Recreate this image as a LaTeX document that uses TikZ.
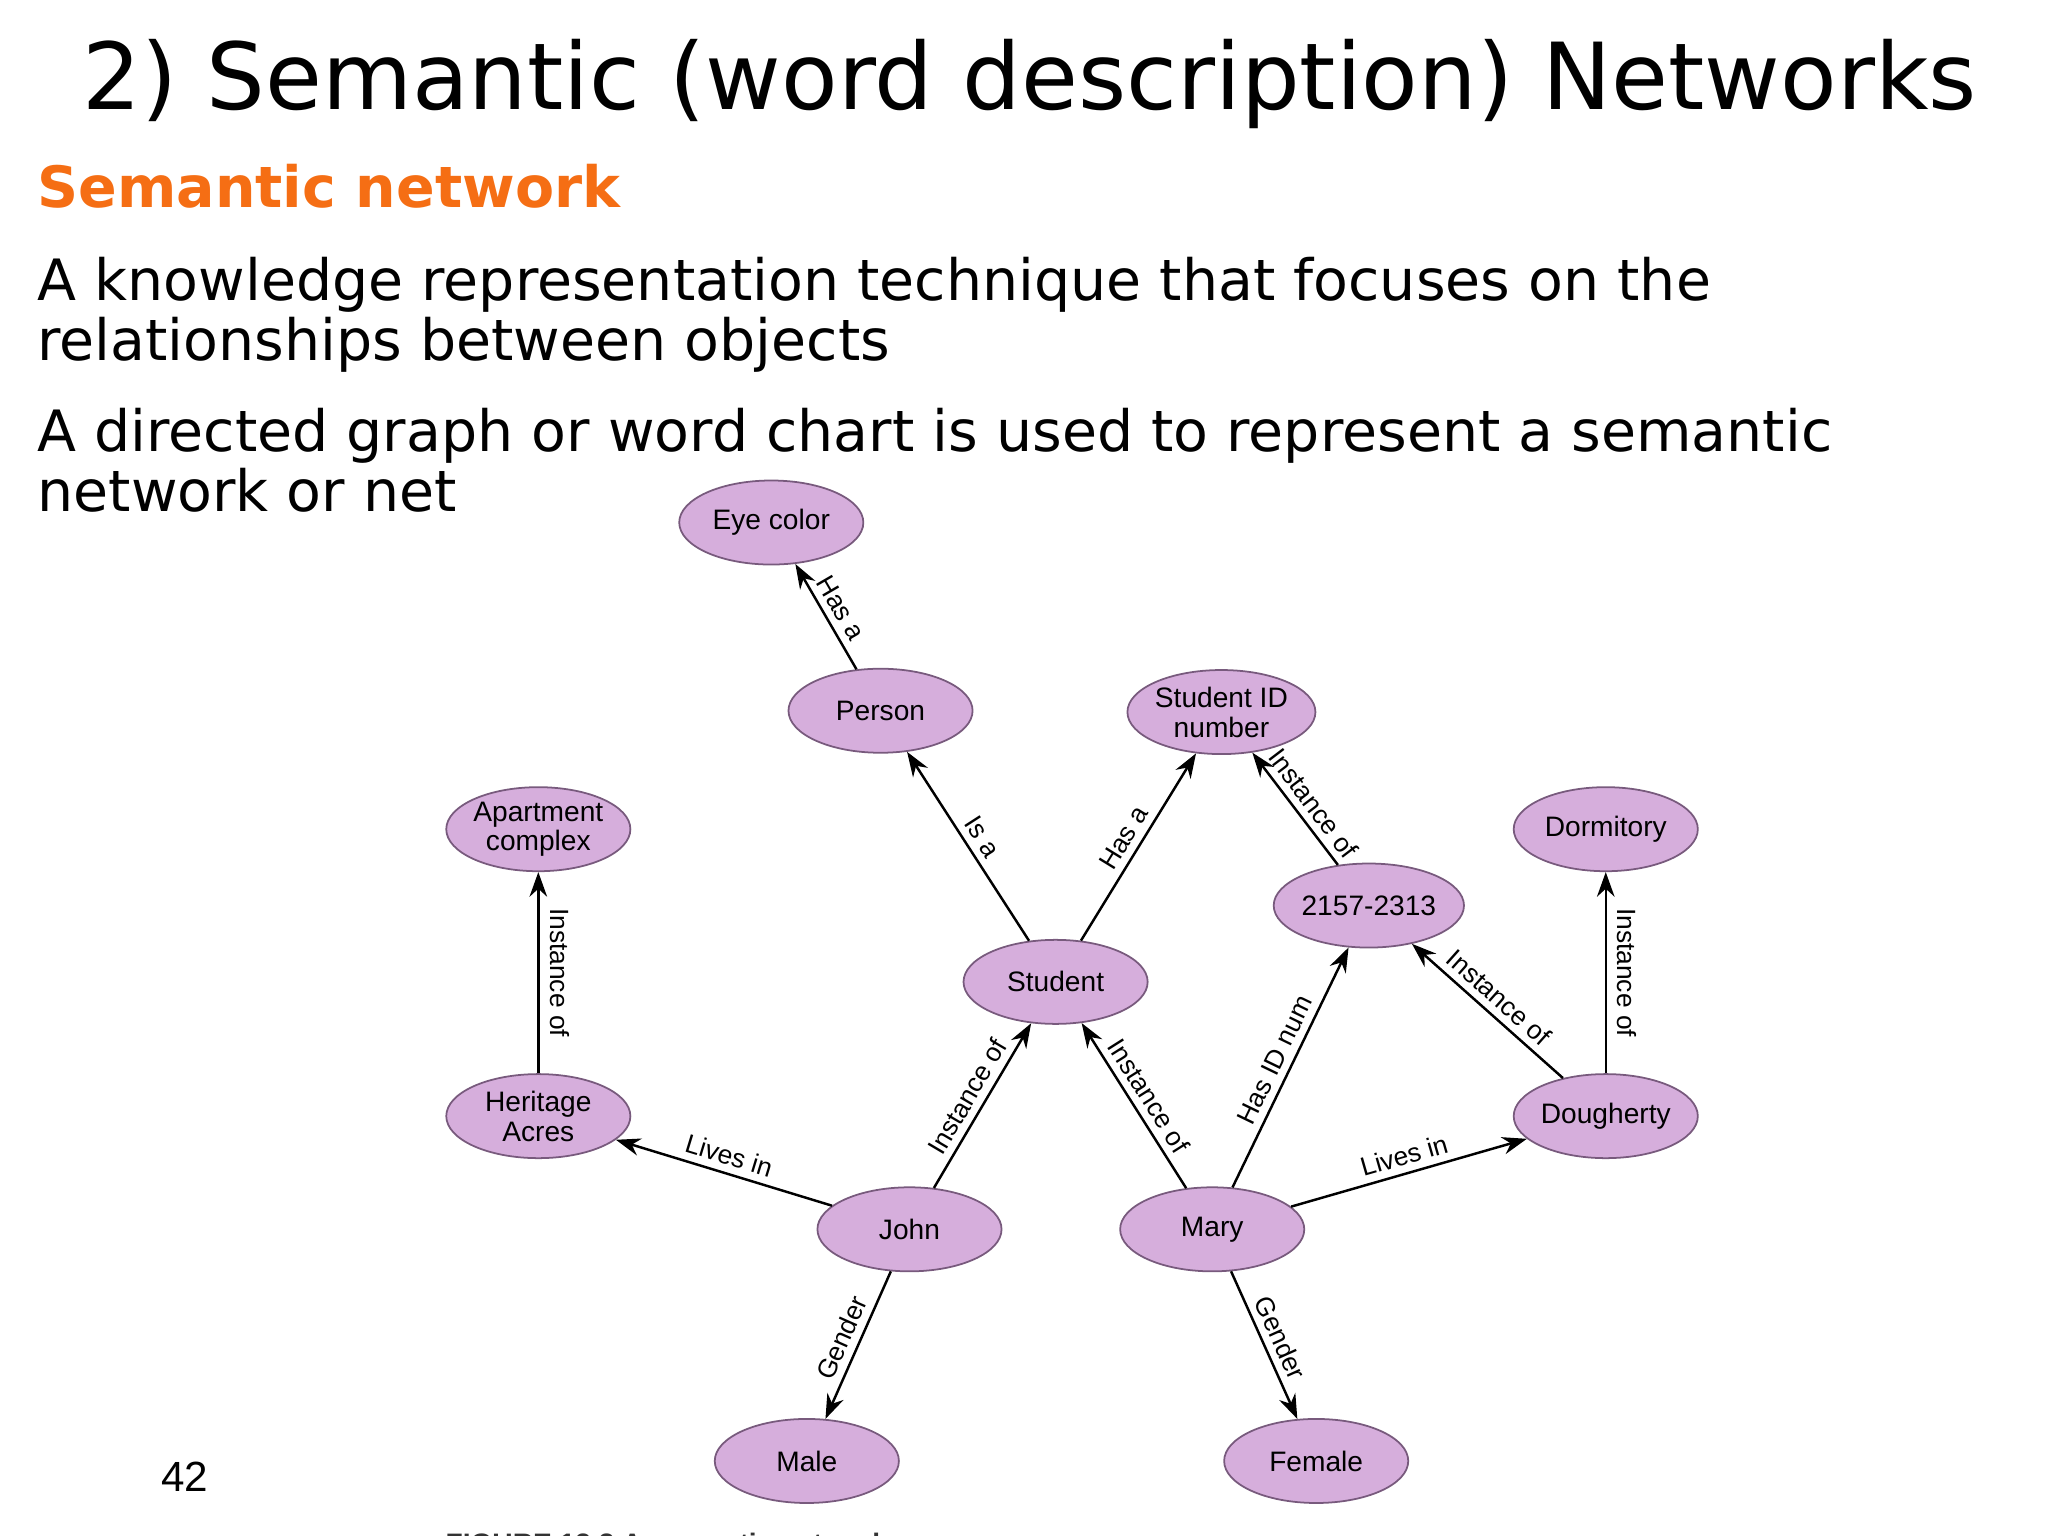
\documentclass[tikz,border=0pt]{standalone}
\usepackage{fontspec}
\setmainfont{DejaVu Sans}
\newfontfamily\nodefont{Liberation Sans}
\usetikzlibrary{shapes.geometric,arrows.meta}
\definecolor{nodefill}{RGB}{214,174,220}
\definecolor{nodeline}{RGB}{120,90,125}
\definecolor{orangeh}{RGB}{245,110,20}
\begin{document}
\begin{tikzpicture}[x=0.01316cm,y=-0.01316cm,
  nd/.style={ellipse,draw=nodeline,fill=nodefill,line width=0.5pt,minimum width=1.84cm,minimum height=0.84cm,inner sep=0pt,align=center,font=\nodefont\fontsize{8}{8.5}\selectfont},
  ed/.style={-{Stealth[length=7pt,width=5pt]},line width=0.7pt},
  lb/.style={sloped,above,font=\nodefont\fontsize{7.5}{7.5}\selectfont,inner sep=2pt},
  vlb/.style={midway,rotate=-90,anchor=south,font=\nodefont\fontsize{7.5}{7.5}\selectfont,inner sep=3pt},
  txt/.style={anchor=base west,inner sep=0pt},
  body/.style={txt,font=\fontsize{16.2}{16.2}\selectfont}]
\useasboundingbox (0,0) rectangle (1556,1167);
\begin{scope}
\clip (0,0) rectangle (1556,1167);
\node[txt,font=\fontsize{26.3}{26.3}\selectfont] (title) at (62,83) {2) Semantic (word description) Networks};
\node[txt,font=\bfseries\fontsize{16.2}{16.2}\selectfont,text=orangeh] (sub) at (28,158) {Semantic network};
\node[body] (l1) at (28,228) {A knowledge representation technique that focuses on the};
\node[body] (l2) at (28,274) {relationships between objects};
\node[body] (l3) at (28,343) {A directed graph or word chart is used to represent a semantic};
\node[body] (l4) at (28,389) {network or net};
\node[txt,font=\nodefont\fontsize{12}{12}\selectfont] (pg) at (122,1133) {42};
\node[txt,font=\nodefont\bfseries\fontsize{8}{8}\selectfont,text=black!80] (cap) at (338,1180) {FIGURE 13.3 A semantic network};

\node[nd] (eye) at (586,397) {Eye color};
\node[nd] (person) at (669,540) {Person};
\node[nd] (sid) at (928,541) {Student ID\\number};
\node[nd] (apt) at (409,630) {Apartment\\complex};
\node[nd] (dorm) at (1220,630) {Dormitory};
\node[nd] (num) at (1040,688) {2157-2313};
\node[nd] (student) at (802,746) {Student};
\node[nd] (her) at (409,848) {Heritage\\Acres};
\node[nd] (dough) at (1220,848) {Dougherty};
\node[nd] (john) at (691,934) {John};
\node[nd] (mary) at (921,934) {Mary};
\node[nd] (male) at (613,1110) {Male};
\node[nd] (female) at (1000,1110) {Female};

\draw[ed] (person) -- node[lb]{Has a} (eye);
\draw[ed] (student) -- node[lb]{Is a} (person);
\draw[ed] (student) -- node[lb]{Has a} (sid);
\draw[ed] (num) -- node[lb,pos=0.45]{Instance of} (sid);
\draw[ed] (her) -- node[vlb]{Instance of} (apt);
\draw[ed] (dough) -- node[vlb]{Instance of} (dorm);
\draw[ed] (john) -- node[lb]{Lives in} (her);
\draw[ed] (john) -- node[lb]{Instance of} (student);
\draw[ed] (mary) -- node[lb]{Instance of} (student);
\draw[ed] (mary) -- node[lb]{Has ID num} (num);
\draw[ed] (dough) -- node[lb]{Instance of} (num);
\draw[ed] (mary) -- node[lb]{Lives in} (dough);
\draw[ed] (john) -- node[lb]{Gender} (male);
\draw[ed] (mary) -- node[lb]{Gender} (female);
\end{scope}
\end{tikzpicture}
\end{document}
